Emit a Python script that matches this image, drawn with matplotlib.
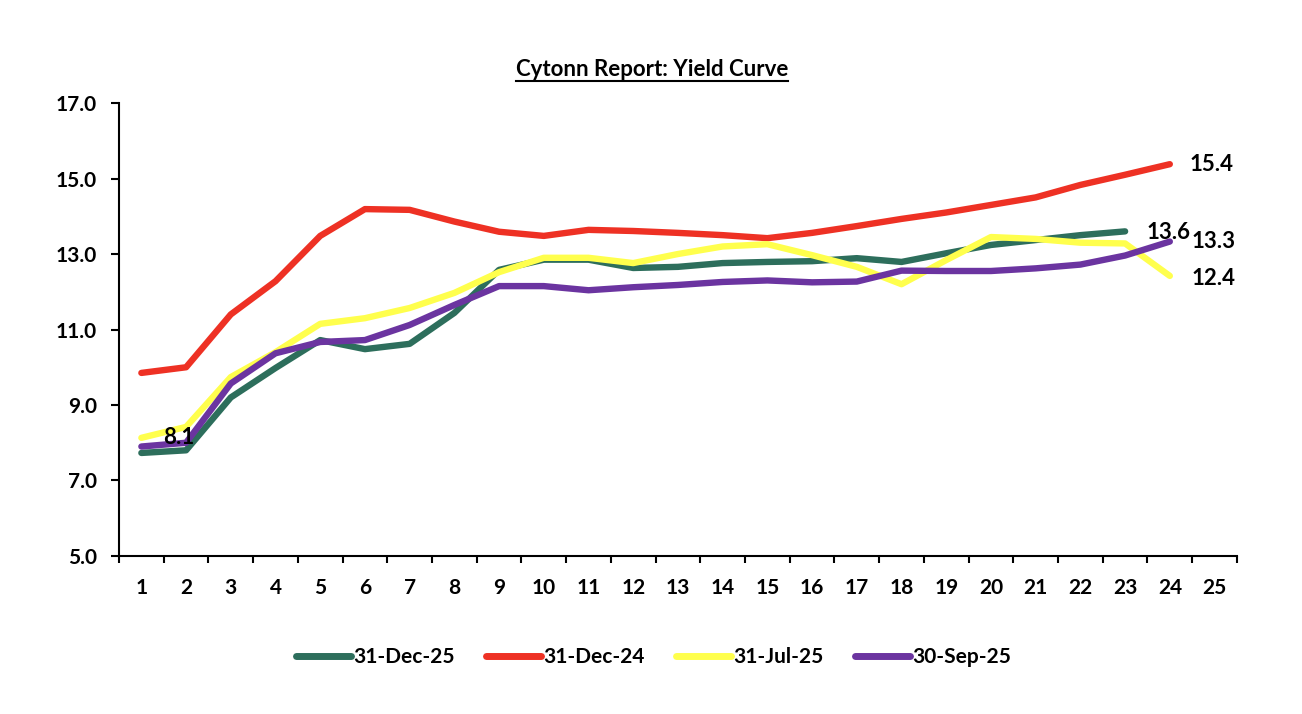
import matplotlib
matplotlib.use('Agg')
import matplotlib.pyplot as plt
from matplotlib.lines import Line2D

plt.rcParams['font.family'] = ['Lato', 'DejaVu Sans']
plt.rcParams['font.weight'] = 'bold'

TENOR = list(range(1, 26))

DEC_25 = [7.73, 7.80, 9.20, 9.98, 10.72, 10.48, 10.62, 11.44, 12.58, 12.85, 12.85, 12.63,
          12.66, 12.76, 12.79, 12.81, 12.89, 12.79, 13.02, 13.24, 13.37, 13.50, 13.60]
DEC_24 = [9.85, 10.00, 11.40, 12.28, 13.48, 14.19, 14.17, 13.86, 13.59, 13.48, 13.64, 13.61,
          13.56, 13.50, 13.42, 13.56, 13.74, 13.93, 14.10, 14.30, 14.50, 14.83, 15.10, 15.38]
JUL_25 = [8.13, 8.42, 9.74, 10.40, 11.15, 11.30, 11.57, 11.97, 12.52, 12.90, 12.90, 12.76,
          13.00, 13.20, 13.26, 12.97, 12.66, 12.20, 12.84, 13.45, 13.40, 13.30, 13.28, 12.42]
SEP_25 = [7.90, 8.00, 9.57, 10.37, 10.67, 10.72, 11.12, 11.65, 12.15, 12.15, 12.04, 12.12,
          12.18, 12.26, 12.30, 12.25, 12.27, 12.56, 12.55, 12.55, 12.62, 12.72, 12.96, 13.33]

SERIES = [
    ('31-Dec-25', DEC_25, '#2D6E5C'),
    ('31-Dec-24', DEC_24, '#EE3124'),
    ('31-Jul-25', JUL_25, '#FFFF4D'),
    ('30-Sep-25', SEP_25, '#6B34A0'),
]

# data labels: (text, x, y)
LABELS = [
    ('15.4', 24.94, 15.36),
    ('13.6', 23.96, 13.58),
    ('13.3', 24.98, 13.34),
    ('12.4', 24.98, 12.36),
    ('8.1', 1.84, 8.13),
]

fig = plt.figure(figsize=(13.02, 7.14), dpi=100)
ax = fig.add_axes([0.0914, 0.2213, 0.950 - 0.0914, 0.8557 - 0.2213])

for name, vals, col in SERIES:
    ax.plot(TENOR[:len(vals)], vals, color=col, lw=4.6, label=name, solid_capstyle='round')

for txt, x, y in LABELS:
    ax.text(x, y, txt, ha='center', va='center', fontsize=16, fontweight='bold')

ax.set_xlim(0.5, 25.5)
ax.set_ylim(5, 17)
ax.set_yticks([5, 7, 9, 11, 13, 15, 17])
ax.set_yticklabels([f'{v:.1f}' for v in [5, 7, 9, 11, 13, 15, 17]])
ax.set_xticks(TENOR)
ax.set_xticklabels([str(t) for t in TENOR])
ax.set_xticks([t - 0.5 for t in TENOR] + [25.5], minor=True)

ax.spines['top'].set_visible(False)
ax.spines['right'].set_visible(False)
ax.spines['left'].set_linewidth(1.5)
ax.spines['bottom'].set_linewidth(1.5)

ax.tick_params(axis='y', direction='out', length=6, width=1.5, pad=10, labelsize=15)
ax.tick_params(axis='x', which='major', length=0, pad=16, labelsize=15)
ax.tick_params(axis='x', which='minor', direction='out', length=5, width=1.5)
for lab in ax.get_xticklabels() + ax.get_yticklabels():
    lab.set_fontweight('bold')

leg = fig.legend(loc='center', bbox_to_anchor=(0.502, 0.080), ncol=4, frameon=False,
                 fontsize=15, handlelength=2.65, handletextpad=0.1, columnspacing=1.5)
for h in leg.get_lines():
    h.set_linewidth(5)
for t in leg.get_texts():
    t.set_fontweight('bold')

title = fig.text(0.501, 1 - 69 / 714, 'Cytonn Report: Yield Curve', ha='center', va='center',
                 fontsize=16, fontweight='bold')

# underline the title
fig.canvas.draw()
bb = title.get_window_extent().transformed(fig.transFigure.inverted())
uy = bb.y0 - 0.002
fig.add_artist(Line2D([bb.x0, bb.x1], [uy, uy], transform=fig.transFigure, color='black', lw=1.5))

fig.savefig('out.png', dpi=100)
